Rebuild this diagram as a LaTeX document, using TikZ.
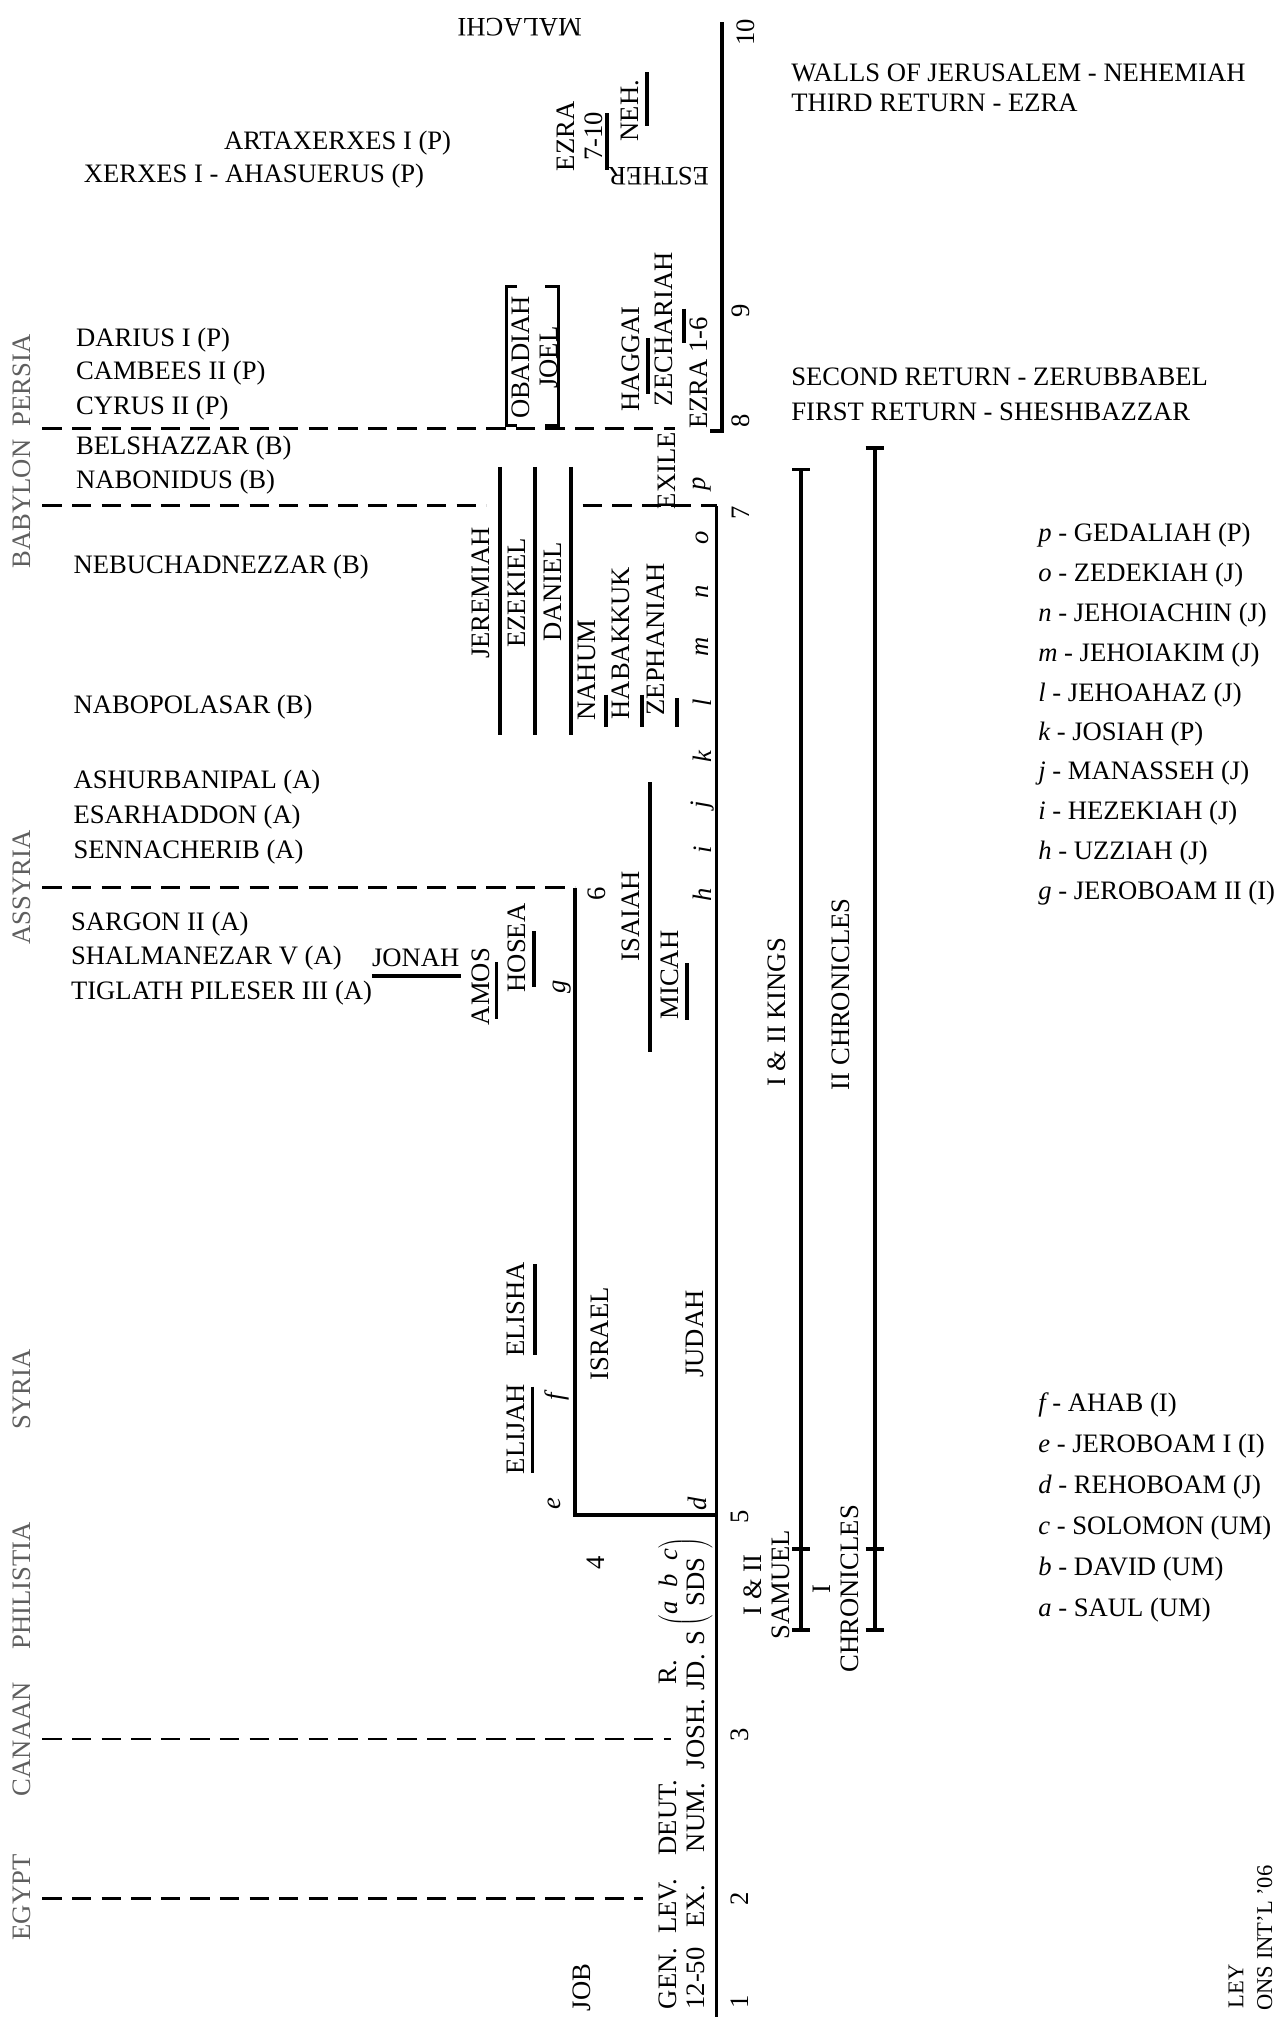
\documentclass[tikz,border=0pt]{standalone}
\usepackage{fontspec}
\setmainfont{Liberation Serif}
\newcommand{\scrl}[1]{{\itshape #1}}
\definecolor{regiongray}{RGB}{95,95,95}
\tikzset{
  every node/.style={inner sep=0pt, font=\fontsize{20.7}{21.5}\selectfont},
  txt/.style={anchor=base west},
  vtxt/.style={rotate=90, align=center},
  upside/.style={rotate=180},
  region/.style={rotate=90, text=regiongray},
  lettr/.style={rotate=90},
  bar/.style={line width=3pt},
  tline/.style={line width=3pt},
  dline/.style={line width=2pt, dash pattern=on 15pt off 8pt},
  brk/.style={line width=2.5pt},
  small/.style={font=\fontsize{17.5}{18}\selectfont}
}
\begin{document}
\begin{tikzpicture}[x=1pt,y=-1pt]
\useasboundingbox (0,0) rectangle (991,1568);
\fill[white] (0,0) rectangle (991,1568);

% ---------- dashed period boundaries ----------
\draw[dline] (33,333) -- (525,333);
\draw[dline] (33,393) -- (378,393);
\draw[dline] (453,393) -- (557,393);
\draw[dline] (33,690) -- (447,690);
\draw[dline] (33,1352) -- (522,1352);
\draw[dline] (33,1476) -- (500,1476);

% ---------- main timeline ----------
\draw[tline] (557,1570) -- (557,393);
\draw[tline] (552,335) -- (561,335) -- (561,17);
\draw[tline] (447,690) -- (447,1178) -- (557,1178);

% Kings / Chronicles bars
\draw[bar] (623,365) -- (623,1267);
\draw[bar] (616,365) -- (630,365);
\draw[bar] (616,1204) -- (630,1204);
\draw[bar] (616,1267) -- (630,1267);
\draw[bar] (680,348) -- (680,1267);
\draw[bar] (673,348) -- (687,348);
\draw[bar] (673,1204) -- (687,1204);
\draw[bar] (673,1267) -- (687,1267);

% prophet bars
\draw[bar] (389,363) -- (389,571);
\draw[bar] (416,363) -- (416,571);
\draw[bar] (444,363) -- (444,571);
\draw[bar] (471,540) -- (471,565);
\draw[bar] (499,540) -- (499,565);
\draw[bar] (526,543) -- (526,565);
\draw[bar] (505,608) -- (505,818);
\draw[bar] (534,749) -- (534,793);
\draw[bar] (386,748) -- (386,792);
\draw[bar] (415,724) -- (415,767);
\draw[bar] (414,1078) -- (414,1145);
\draw[bar] (416,983) -- (416,1053);
\draw[bar] (289,759) -- (358,759);
\draw[bar] (504,263) -- (504,306);
\draw[bar] (532,240) -- (532,267);
\draw[bar] (472,88) -- (472,132);
\draw[bar] (503,56) -- (503,98);

% Obadiah / Joel bracket
\draw[brk] (402,223) -- (394,223) -- (394,331) -- (402,331);
\draw[brk] (424,223) -- (434,223) -- (434,331) -- (424,331);

% ---------- region labels ----------
\node[region] (egypt) at (17,1475) {EGYPT};
\node[region] (canaan) at (17,1352) {CANAAN};
\node[region] (philistia) at (17,1233) {PHILISTIA};
\node[region] (syria) at (17,1080) {SYRIA};
\node[region] (assyria) at (17,690) {ASSYRIA};
\node[region] (babpers) at (17,351) {BABYLON\ \ PERSIA};

% ---------- kings (horizontal) ----------
\node[txt] (artax) at (174,116) {ARTAXERXES I (P)};
\node[txt] (xerxes) at (65,142) {XERXES I - AHASUERUS (P)};
\node[txt] (darius) at (59,269) {DARIUS I (P)};
\node[txt] (cambees) at (59,295) {CAMBEES II (P)};
\node[txt] (cyrus) at (59,322) {CYRUS II (P)};
\node[txt] (belsh) at (59,353) {BELSHAZZAR (B)};
\node[txt] (nabon) at (59,380) {NABONIDUS (B)};
\node[txt] (nebuch) at (57,446) {NEBUCHADNEZZAR (B)};
\node[txt] (nabop) at (57,555) {NABOPOLASAR (B)};
\node[txt] (ashur) at (57,613) {ASHURBANIPAL (A)};
\node[txt] (esar) at (57,640) {ESARHADDON (A)};
\node[txt] (senn) at (57,667) {SENNACHERIB (A)};
\node[txt] (sargon) at (55,723) {SARGON II (A)};
\node[txt] (shalm) at (55,750) {SHALMANEZAR V (A)};
\node[txt] (tiglath) at (55,777) {TIGLATH PILESER III (A)};
\node[txt] (jonah) at (289,751) {JONAH};

% ---------- right side ----------
\node[txt] (walls) at (615,63) {WALLS OF JERUSALEM - NEHEMIAH};
\node[txt] (third) at (615,87) {THIRD RETURN - EZRA};
\node[txt] (second) at (615,300) {SECOND RETURN - ZERUBBABEL};
\node[txt] (first) at (615,327) {FIRST RETURN - SHESHBAZZAR};

\node[txt] (gp) at (807,421) {\scrl{p} - GEDALIAH (P)};
\node[txt] (go) at (807,452) {\scrl{o} - ZEDEKIAH (J)};
\node[txt] (gn) at (807,483) {\scrl{n} - JEHOIACHIN (J)};
\node[txt] (gm) at (807,514) {\scrl{m} - JEHOIAKIM (J)};
\node[txt] (gl) at (807,545) {\scrl{l} - JEHOAHAZ (J)};
\node[txt] (gk) at (807,576) {\scrl{k} - JOSIAH (P)};
\node[txt] (gj) at (807,606) {\scrl{j} - MANASSEH (J)};
\node[txt] (gi) at (807,637) {\scrl{i} - HEZEKIAH (J)};
\node[txt] (gh) at (807,668) {\scrl{h} - UZZIAH (J)};
\node[txt] (gg) at (807,699) {\scrl{g} - JEROBOAM II (I)};

\node[txt] (gf) at (807,1097) {\scrl{f} - AHAB (I)};
\node[txt] (ge) at (807,1129) {\scrl{e} - JEROBOAM I (I)};
\node[txt] (gd) at (807,1161) {\scrl{d} - REHOBOAM (J)};
\node[txt] (gc) at (807,1193) {\scrl{c} - SOLOMON (UM)};
\node[txt] (gb) at (807,1225) {\scrl{b} - DAVID (UM)};
\node[txt] (ga) at (807,1257) {\scrl{a} - SAUL (UM)};

% ---------- upside-down labels ----------
\node[upside] (malachi) at (404,21) {MALACHI};
\node[upside] (esther) at (512,137) {ESTHER};

% ---------- rotated book / prophet labels ----------
\node[vtxt] (job) at (452,1545) {JOB};
\node[vtxt] (gen) at (530,1538) {GEN.\\12-50};
\node[vtxt] (lev) at (530,1482) {LEV.\\EX.};
\node[vtxt] (deut) at (530,1413) {DEUT.\\NUM.};
\node[vtxt] (josh) at (541,1348) {JOSH.};
\node[vtxt] (rjd) at (530,1300) {R.\\JD.};
\node[rotate=90, anchor=base] (sds) at (548,1237) {S\,\raisebox{10pt}{$\left(\vcenter{\hbox{\begin{tabular}{@{}c@{}}\scrl{a\; b\; c}\\SDS\end{tabular}}}\right)$}};
\node[vtxt] (samuel) at (596,1232) {I \& II\\SAMUEL};
\node[vtxt] (ichron) at (650,1235) {I\\CHRONICLES};
\node[vtxt] (judah) at (540,1037) {JUDAH};
\node[vtxt] (israel) at (466,1037) {ISRAEL};
\node[vtxt] (elijah) at (401,1111) {ELIJAH};
\node[vtxt] (elisha) at (401,1018) {ELISHA};
\node[vtxt] (amos) at (374,767) {AMOS};
\node[vtxt] (hosea) at (402,737) {HOSEA};
\node[vtxt] (isaiah) at (490,712) {ISAIAH};
\node[vtxt] (micah) at (521,758) {MICAH};
\node[vtxt] (kings) at (604,787) {I \& II KINGS};
\node[vtxt] (iichron) at (654,773) {II CHRONICLES};
\node[vtxt] (jeremiah) at (374,461) {JEREMIAH};
\node[vtxt] (ezekiel) at (402,461) {EZEKIEL};
\node[vtxt] (daniel) at (430,460) {DANIEL};
\node[vtxt] (nahum) at (456,521) {NAHUM};
\node[vtxt] (habakkuk) at (483,500) {HABAKKUK};
\node[vtxt] (zephaniah) at (510,497) {ZEPHANIAH};
\node[vtxt] (exile) at (518,366) {EXILE};
\node[vtxt] (obadiah) at (416,278) {OBADIAH\\JOEL};
\node[vtxt] (haggai) at (490,279) {HAGGAI};
\node[vtxt] (zechariah) at (516,256) {ZECHARIAH};
\node[vtxt] (ezra16) at (543,290) {EZRA 1-6};
\node[vtxt] (ezra710) at (451,106) {EZRA\\7-10};
\node[vtxt] (neh) at (490,86) {NEH.};

% ---------- timeline numbers ----------
\node[vtxt] (n1) at (575,1556) {1};
\node[vtxt] (n2) at (575,1476) {2};
\node[vtxt] (n3) at (575,1349) {3};
\node[vtxt] (n4) at (463,1215) {4};
\node[vtxt] (n5) at (575,1179) {5};
\node[vtxt] (n6) at (464,695) {6};
\node[vtxt] (n7) at (576,399) {7};
\node[vtxt] (n8) at (576,327) {8};
\node[vtxt] (n9) at (576,242) {9};
\node[vtxt] (n10) at (580,25) {10};

% ---------- king letters on the timeline ----------
\node[lettr] (lp) at (546,376) {\scrl{p}};
\node[lettr] (lo) at (546,418) {\scrl{o}};
\node[lettr] (ln) at (546,460) {\scrl{n}};
\node[lettr] (lm) at (546,503) {\scrl{m}};
\node[lettr] (ll) at (546,546) {\scrl{l}};
\node[lettr] (lk) at (546,588) {\scrl{k}};
\node[lettr] (lj) at (546,626) {\scrl{j}};
\node[lettr] (li) at (546,661) {\scrl{i}};
\node[lettr] (lh) at (546,696) {\scrl{h}};
\node[lettr] (lg) at (437,767) {\scrl{g}};
\node[lettr] (lf) at (433,1086) {\scrl{f}};
\node[lettr] (le) at (431,1169) {\scrl{e}};
\node[lettr] (ld) at (542,1169) {\scrl{d}};

% ---------- cut-off credit at the bottom right ----------
\node[rotate=90, anchor=north east, small] (credit1) at (955,1527) {LEY};
\node[rotate=90, anchor=north east, small] (credit2) at (977,1450) {ONS INT'L '06};
\end{tikzpicture}
\end{document}
